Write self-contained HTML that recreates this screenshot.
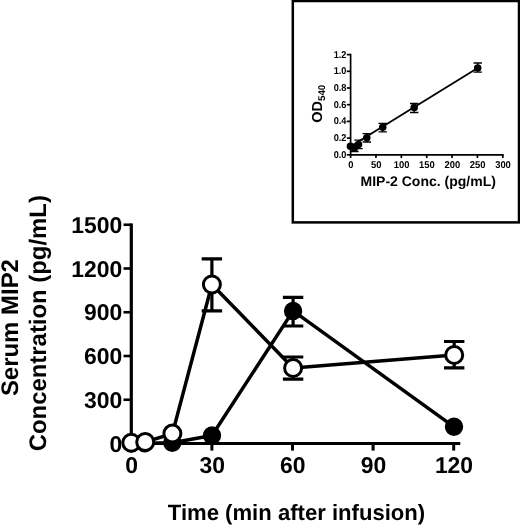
<!DOCTYPE html>
<html><head><meta charset="utf-8"><title>Serum MIP2</title>
<style>
html,body{margin:0;padding:0;background:#fff;}
svg{display:block}
text{font-family:"Liberation Sans",Arial,Helvetica,sans-serif;font-weight:bold;fill:#000;text-rendering:geometricPrecision}
</style></head><body>
<svg width="520" height="525" viewBox="0 0 520 525">
<rect x="0" y="0" width="520" height="525" fill="#fff"/>
<rect x="292.8" y="1" width="226.2" height="221.4" fill="#fff" stroke="#000" stroke-width="2.5"/>
<g stroke="#000" stroke-width="1.7" fill="none" stroke-linecap="butt">
<path d="M350.60 53.75V155.65"/>
<path d="M349.75 154.80H503.65"/>
<path d="M346.80 154.80H350.60"/>
<path d="M346.80 138.10H350.60"/>
<path d="M346.80 121.40H350.60"/>
<path d="M346.80 104.70H350.60"/>
<path d="M346.80 88.00H350.60"/>
<path d="M346.80 71.30H350.60"/>
<path d="M346.80 54.60H350.60"/>
<path d="M350.60 154.80V158.00"/>
<path d="M375.97 154.80V158.00"/>
<path d="M401.33 154.80V158.00"/>
<path d="M426.70 154.80V158.00"/>
<path d="M452.07 154.80V158.00"/>
<path d="M477.43 154.80V158.00"/>
<path d="M502.80 154.80V158.00"/>
</g>
<g font-size="9.9" text-anchor="end">
<text transform="translate(346.4 157.80) scale(0.93 1)">0.0</text>
<text transform="translate(346.4 141.10) scale(0.93 1)">0.2</text>
<text transform="translate(346.4 124.40) scale(0.93 1)">0.4</text>
<text transform="translate(346.4 107.70) scale(0.93 1)">0.6</text>
<text transform="translate(346.4 91.00) scale(0.93 1)">0.8</text>
<text transform="translate(346.4 74.30) scale(0.93 1)">1.0</text>
<text transform="translate(346.4 57.60) scale(0.93 1)">1.2</text>
</g>
<g font-size="9.9" text-anchor="middle">
<text transform="translate(350.80 168.3) scale(0.95 1)">0</text>
<text transform="translate(376.17 168.3) scale(0.95 1)">50</text>
<text transform="translate(401.53 168.3) scale(0.95 1)">100</text>
<text transform="translate(426.90 168.3) scale(0.95 1)">150</text>
<text transform="translate(452.27 168.3) scale(0.95 1)">200</text>
<text transform="translate(477.63 168.3) scale(0.95 1)">250</text>
<text transform="translate(503.00 168.3) scale(0.95 1)">300</text>
</g>
<text x="428.2" y="185.7" font-size="14" text-anchor="middle">MIP-2 Conc. (pg/mL)</text>
<text transform="translate(322.3 122.8) rotate(-90)" font-size="14.5">OD<tspan font-size="9.8" dy="3.0">540</tspan></text>
<g stroke="#000" stroke-width="1.3" fill="none">
<path stroke-width="1.8" d="M350.4 146.5L477.7 67.9"/>
<path d="M354.4 144.6V151.5M350.2 144.6H358.6M350.2 151.5H358.6"/>
<path d="M358.5 140.2V148.7M354.3 140.2H362.7M354.3 148.7H362.7"/>
<path d="M366.8 133.7V142.0M362.6 133.7H371.0M362.6 142.0H371.0"/>
<path d="M382.7 123.3V131.9M378.5 123.3H386.9M378.5 131.9H386.9"/>
<path d="M414.2 103.5V112.5M410.0 103.5H418.4M410.0 112.5H418.4"/>
<path d="M477.7 63.0V72.1M473.5 63.0H481.9M473.5 72.1H481.9"/>
</g>
<g fill="#000">
<circle cx="350.4" cy="146.3" r="3.75"/>
<circle cx="354.4" cy="148.0" r="3.75"/>
<circle cx="358.5" cy="144.4" r="3.75"/>
<circle cx="366.8" cy="137.7" r="3.75"/>
<circle cx="382.7" cy="127.3" r="3.75"/>
<circle cx="414.2" cy="107.5" r="3.75"/>
<circle cx="477.7" cy="67.9" r="3.75"/>
</g>
<g stroke="#000" fill="none">
<path stroke-width="3.2" d="M131.30 223.45V445.10"/>
<path stroke-width="3.2" d="M129.70 443.50H460.3"/>
<path stroke-width="2.6" d="M123.5 443.50H131.30"/>
<path stroke-width="2.6" d="M123.5 399.75H131.30"/>
<path stroke-width="2.6" d="M123.5 356.00H131.30"/>
<path stroke-width="2.6" d="M123.5 312.25H131.30"/>
<path stroke-width="2.6" d="M123.5 268.50H131.30"/>
<path stroke-width="2.6" d="M123.5 224.75H131.30"/>
<path stroke-width="3" d="M131.30 443.50V450.6"/>
<path stroke-width="3" d="M211.90 443.50V450.6"/>
<path stroke-width="3" d="M292.50 443.50V450.6"/>
<path stroke-width="3" d="M373.10 443.50V450.6"/>
<path stroke-width="3" d="M453.70 443.50V450.6"/>
</g>
<g font-size="22.9" text-anchor="end">
<text x="122.3" y="451.60">0</text>
<text x="122.3" y="407.85">300</text>
<text x="122.3" y="364.10">600</text>
<text x="122.3" y="320.35">900</text>
<text x="122.3" y="276.60">1200</text>
<text x="122.3" y="232.85">1500</text>
</g>
<g font-size="22.9" text-anchor="middle">
<text x="131.60" y="472.8">0</text>
<text x="212.20" y="472.8">30</text>
<text x="292.80" y="472.8">60</text>
<text x="373.40" y="472.8">90</text>
<text x="454.00" y="472.8">120</text>
</g>
<text x="296.5" y="520" font-size="22.1" text-anchor="middle">Time (min after infusion)</text>
<text transform="translate(18.2 327.6) rotate(-90)" font-size="23.95" text-anchor="middle">Serum MIP2</text>
<text transform="translate(45.8 323.2) rotate(-90)" font-size="23.9" text-anchor="middle">Concentration (pg/mL)</text>
<g stroke="#000" stroke-width="3.2" fill="none" stroke-linejoin="round">
<path stroke-width="3.5" d="M131.3 443.3L144.7 443.3L172.3 442.8L212.0 435.5L293.1 310.9L454.0 426.8"/>
<path d="M293.1 297.4V326.0M282.9 297.4H303.3M282.9 326.0H303.3"/>
</g>
<g fill="#000" stroke="#000" stroke-width="1.6">
<circle cx="131.3" cy="443.3" r="8.4"/>
<circle cx="144.7" cy="443.3" r="8.4"/>
<circle cx="172.3" cy="442.8" r="8.4"/>
<circle cx="212.0" cy="435.5" r="8.4"/>
<circle cx="293.1" cy="310.9" r="8.4"/>
<circle cx="454.0" cy="426.8" r="8.4"/>
</g>
<g stroke="#000" stroke-width="3.2" fill="none" stroke-linejoin="round">
<path stroke-width="3.5" d="M131.3 442.8L145.2 442.0L172.4 433.6L211.9 284.5L293.1 368.0L454.2 355.0"/>
<path d="M211.9 258.8V310.8M201.7 258.8H222.1M201.7 310.8H222.1"/>
<path d="M293.1 357.0V379.2M282.9 357.0H303.3M282.9 379.2H303.3"/>
<path d="M454.2 341.5V367.9M444.0 341.5H464.4M444.0 367.9H464.4"/>
</g>
<g fill="#fff" stroke="#000" stroke-width="3">
<circle cx="131.3" cy="442.8" r="8.5"/>
<circle cx="145.2" cy="442.0" r="8.5"/>
<circle cx="172.4" cy="433.6" r="8.5"/>
<circle cx="211.9" cy="284.5" r="8.5"/>
<circle cx="293.1" cy="368.0" r="8.5"/>
<circle cx="454.2" cy="355.0" r="8.5"/>
</g>
</svg>
</body></html>
